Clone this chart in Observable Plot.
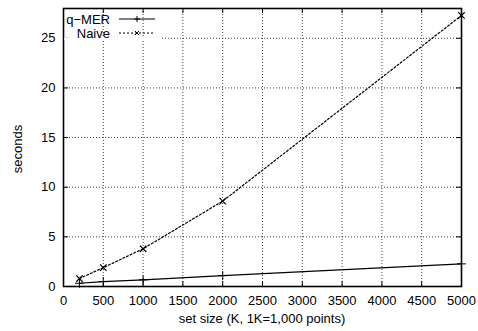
<!DOCTYPE html>
<html>
<head>
<meta charset="utf-8">
<script src="https://cdn.jsdelivr.net/npm/d3@7"></script>
<script src="https://cdn.jsdelivr.net/npm/@observablehq/plot@0.6"></script>
<style>
  html, body { margin: 0; padding: 0; background: #fff; }
  svg { display: block; }
</style>
</head>
<body>
<div id="chart"></div>
<script>
const setSizes = [200, 500, 1000, 2000, 5000];
const qmerSeconds = [0.33, 0.5, 0.67, 1.1, 2.28];
const naiveSeconds = [0.8, 1.9, 3.8, 8.6, 27.3];
const xTicks = [0, 500, 1000, 1500, 2000, 2500, 3000, 3500, 4000, 4500, 5000];
const yTicks = [0, 5, 10, 15, 20, 25];
const seriesNames = ["q−MER", "Naive"];
const xLabel = "set size (K, 1K=1,000 points)";
const yLabel = "seconds";

const qmer = setSizes.map((x, i) => ({x, y: qmerSeconds[i]}));
const naive = setSizes.map((x, i) => ({x, y: naiveSeconds[i]}));

const W = 478, H = 331, mL = 63, mR = 17, mT = 8, mB = 45;
const innerH = H - mT - mB;
const innerW = W - mL - mR;
const font = "Liberation Sans, Arial, Helvetica, sans-serif";
const fs = "13px";

const chart = Plot.plot({
  width: W, height: H,
  marginLeft: mL, marginRight: mR, marginTop: mT, marginBottom: mB,
  style: {fontFamily: font, fontSize: fs, color: "#000", background: "#fff"},
  x: {domain: [0, 5000], ticks: xTicks},
  y: {domain: [0, 28], ticks: yTicks},
  marks: [
    Plot.ruleX(xTicks.slice(1, -1), {stroke: "#000", strokeOpacity: 0.75, strokeDasharray: "1,2"}),
    Plot.ruleY(yTicks.slice(1), {stroke: "#000", strokeOpacity: 0.75, strokeDasharray: "1,2"}),
    Plot.ruleX(xTicks, {stroke: "#000", insetTop: innerH - 5}),
    Plot.ruleX(xTicks, {stroke: "#000", insetBottom: innerH - 5}),
    Plot.ruleY(yTicks, {stroke: "#000", insetRight: innerW - 5}),
    Plot.ruleY(yTicks, {stroke: "#000", insetLeft: innerW - 5}),
    Plot.axisX({ticks: xTicks, tickSize: 0, tickPadding: 9, label: null, fontSize: 13, tickFormat: d => String(d)}),
    Plot.axisY({ticks: yTicks, tickSize: 0, tickPadding: 8, label: null, fontSize: 13, tickFormat: d => String(d)}),
    Plot.line(qmer, {x: "x", y: "y", stroke: "#000", strokeWidth: 1.2}),
    Plot.dot(qmer, {x: "x", y: "y", symbol: "plus", r: 3, stroke: "#000", strokeWidth: 1}),
    Plot.line(naive, {x: "x", y: "y", stroke: "#000", strokeWidth: 1.2, strokeDasharray: "2,2"}),
    Plot.dot(naive, {x: "x", y: "y", symbol: "times", r: 3, stroke: "#000", strokeWidth: 1.2}),
    Plot.frame({stroke: "#000", strokeWidth: 1.6})
  ]
});

const svg = d3.select(chart);
// axis titles
svg.append("text")
  .attr("x", mL + innerW / 2).attr("y", 323)
  .attr("text-anchor", "middle")
  .style("font-family", font).style("font-size", fs).attr("fill", "#000")
  .text(xLabel);
svg.append("text")
  .attr("transform", `translate(22, 149) rotate(-90)`)
  .attr("text-anchor", "middle")
  .style("font-family", font).style("font-size", fs).attr("fill", "#000")
  .text(yLabel);

// legend (key area hides the horizontal grid behind it)
const legend = svg.append("g");
legend.append("line").attr("x1", mL + 1).attr("x2", 162).attr("y1", 38.5).attr("y2", 38.5)
  .attr("stroke", "#fff").attr("stroke-width", 2);
const rows = [
  {name: seriesNames[0], y: 19, dash: null, sym: "plus"},
  {name: seriesNames[1], y: 33, dash: "2,2", sym: "times"}
];
rows.forEach(r => {
  legend.append("text").attr("x", 110).attr("y", r.y + 5)
    .attr("text-anchor", "end")
    .style("font-family", font).style("font-size", fs).attr("fill", "#000")
    .text(r.name);
  legend.append("line").attr("x1", 119).attr("x2", 155).attr("y1", r.y).attr("y2", r.y)
    .attr("stroke", "#000").attr("stroke-width", 1.2).attr("stroke-dasharray", r.dash);
  const p = r.sym === "plus"
    ? `M134,${r.y}h6M137,${r.y - 3}v6`
    : `M135,${r.y - 2}l4,4M139,${r.y - 2}l-4,4`;
  legend.append("path").attr("d", p).attr("stroke", "#000").attr("fill", "none");
});

document.getElementById("chart").appendChild(chart);
</script>
</body>
</html>
